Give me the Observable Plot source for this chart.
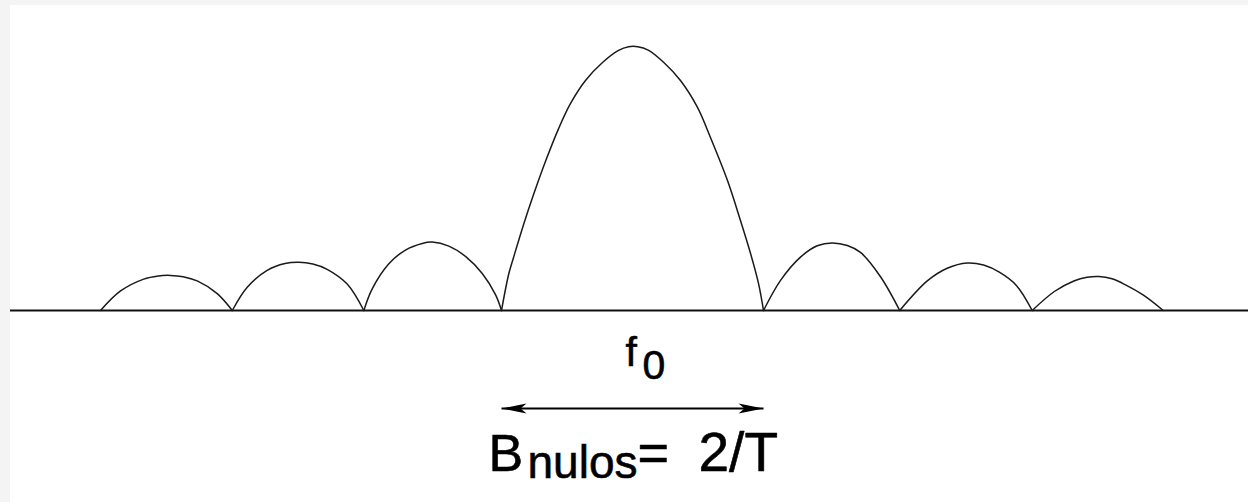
<!DOCTYPE html>
<html>
<head>
<meta charset="utf-8">
<script src="https://cdn.jsdelivr.net/npm/d3@7"></script>
<script src="https://cdn.jsdelivr.net/npm/@observablehq/plot@0.6"></script>
<style>
  html, body { margin: 0; padding: 0; background: #f4f4f4; }
  #chart { padding: 5px 0 0 10px; width: 1238px; height: 497px; }
  #chart svg { display: block; background: #ffffff; }
</style>
</head>
<body>
<div id="chart"></div>
<script>
// Spectrum |X(f)|: frequency in units of 1/T relative to f0,
// amplitude relative to the main-lobe peak.
const mainLobe = [
  [-1.000, 0], [-0.944, 0.140], [-0.908, 0.201], [-0.832, 0.325], [-0.756, 0.438],
  [-0.664, 0.565], [-0.565, 0.688], [-0.473, 0.784], [-0.359, 0.871], [-0.229, 0.939],
  [-0.107, 0.985], [-0.030, 0.999], [0.040, 0.999], [0.120, 0.986], [0.237, 0.940],
  [0.366, 0.871], [0.496, 0.769], [0.595, 0.655], [0.725, 0.492], [0.824, 0.341],
  [0.901, 0.216], [0.962, 0.102], [1.000, 0]
];
const leftLobe1 = [
  [-2.051, 0], [-1.987, 0.082], [-1.860, 0.177], [-1.733, 0.229], [-1.605, 0.254],
  [-1.529, 0.259], [-1.402, 0.244], [-1.275, 0.205], [-1.147, 0.140], [-1.046, 0.060], [-1.000, 0]
];
const leftLobe2 = [
  [-3.055, 0], [-2.941, 0.088], [-2.789, 0.152], [-2.653, 0.178], [-2.547, 0.183],
  [-2.440, 0.176], [-2.331, 0.156], [-2.178, 0.100], [-2.051, 0]
];
const leftLobe3 = [
  [-4.061, 0], [-3.908, 0.074], [-3.731, 0.119], [-3.620, 0.131], [-3.527, 0.133],
  [-3.430, 0.128], [-3.323, 0.112], [-3.170, 0.064], [-3.055, 0]
];
const rightLobe1 = [
  [1.000, 0], [1.130, 0.114], [1.282, 0.202], [1.410, 0.245], [1.524, 0.256],
  [1.640, 0.246], [1.740, 0.220], [1.893, 0.128], [2.040, 0]
];
const rightLobe2 = [
  [2.040, 0], [2.250, 0.112], [2.402, 0.160], [2.555, 0.180], [2.680, 0.172],
  [2.800, 0.145], [2.930, 0.095], [3.051, 0]
];
const rightLobe3 = [
  [3.051, 0], [3.220, 0.072], [3.369, 0.112], [3.470, 0.126], [3.560, 0.129],
  [3.660, 0.120], [3.760, 0.098], [3.900, 0.058], [4.051, 0]
];

const centreFreq = 0;          // f0
const bandEdges = [-1, 1];     // f0 - 1/T, f0 + 1/T  (B = 2/T)
const f0Label = ["f", "0"];
const bandLabel = ["B", "nulos", "=", "2/T"];

const lobes = { leftLobe3, leftLobe2, leftLobe1, mainLobe, rightLobe1, rightLobe2, rightLobe3 };
const rows = Object.entries(lobes).flatMap(([name, pts]) => pts.map(([f, a]) => ({ lobe: name, f, a })));

const headRight = { draw(ctx) { ctx.moveTo(0, 0); ctx.lineTo(-25, -5); ctx.lineTo(-19, 0); ctx.lineTo(-25, 5); ctx.closePath(); } };
const headLeft  = { draw(ctx) { ctx.moveTo(0, 0); ctx.lineTo(25, -5); ctx.lineTo(19, 0); ctx.lineTo(25, 5); ctx.closePath(); } };

const font = "'Liberation Sans', Arial, Helvetica, sans-serif";
const at = () => centreFreq;
const txt = { x: at, y: 0, text: d => d, textAnchor: "start", lineAnchor: "bottom", fontFamily: font, fill: "#000", stroke: "#000", strokeWidth: 0.6 };

const chart = Plot.plot({
  width: 1238,
  height: 497,
  margin: 0,
  x: { domain: [-4.748, 4.702], axis: null },
  y: { domain: [-0.727, 1.155], axis: null },
  style: { background: "#ffffff", fontFamily: font },
  marks: [
    Plot.ruleY([0], { stroke: "#111", strokeWidth: 1.8 }),
    Plot.line(rows, { x: "f", y: "a", z: "lobe", curve: "catmull-rom", stroke: "#1a1a1a", strokeWidth: 1.5 }),
    // f0 label
    Plot.text([f0Label[0]], { ...txt, dy: 55, dx: -7, fontSize: 41 }),
    Plot.text([f0Label[1]], { ...txt, dy: 68, dx: 10, fontSize: 41 }),
    // bandwidth arrow
    Plot.link([bandEdges], { x1: d => d[0], x2: d => d[1], y1: 0, y2: 0, dy: 98, stroke: "#000", strokeWidth: 1.8 }),
    Plot.dot([bandEdges[1]], { x: d => d, y: 0, dy: 98, symbol: headRight, fill: "#000", stroke: "none" }),
    Plot.dot([bandEdges[0]], { x: d => d, y: 0, dy: 98, symbol: headLeft, fill: "#000", stroke: "none" }),
    // B_nulos = 2/T
    Plot.text([bandLabel[0]], { ...txt, dy: 160, dx: -144, fontSize: 52 }),
    Plot.text([bandLabel[1]], { ...txt, dy: 167, dx: -105, fontSize: 46 }),
    Plot.text([bandLabel[2]], { ...txt, dy: 160, dx: 5, fontSize: 54 }),
    Plot.text([bandLabel[3]], { ...txt, dy: 160, dx: 66, fontSize: 55 })
  ]
});
document.getElementById("chart").appendChild(chart);
</script>
</body>
</html>
